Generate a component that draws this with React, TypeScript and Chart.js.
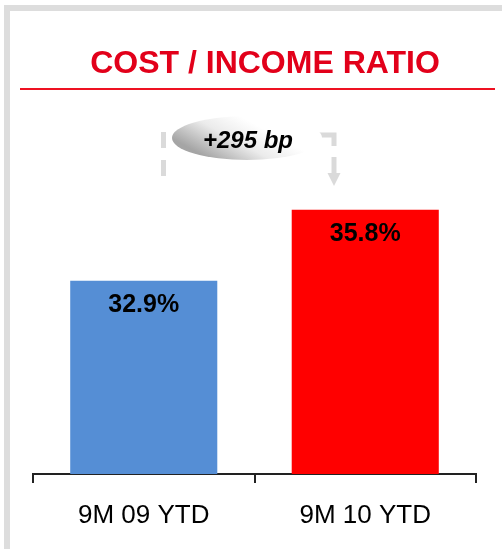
import React, { useEffect, useRef } from "react";
import { Chart, registerables } from "chart.js";

Chart.register(...registerables);

const categories = ["9M 09 YTD", "9M 10 YTD"];
const ratioValues = [32.9, 35.8];
const valueLabels = ["32.9%", "35.8%"];
const barColors = ["#558ed5", "#ff0000"];
const titleText = "COST / INCOME RATIO";
const deltaText = "+295 bp";

const FONT = "'Liberation Sans', Arial, sans-serif";

const decorPlugin = {
  id: "decor",
  beforeDraw(chart: any) {
    const ctx = chart.ctx;
    ctx.save();
    ctx.fillStyle = "#ffffff";
    ctx.fillRect(0, 0, chart.width, chart.height);
    // frame
    ctx.fillStyle = "#dddddd";
    ctx.fillRect(4, 5, 6, chart.height - 5);
    ctx.fillRect(4, 5, chart.width - 4, 6);
    // title
    ctx.fillStyle = "#e2001a";
    ctx.font = `bold 32px ${FONT}`;
    ctx.textAlign = "center";
    ctx.textBaseline = "alphabetic";
    ctx.fillText(titleText, 265, 73);
    // underline
    ctx.strokeStyle = "#ee1122";
    ctx.lineWidth = 2;
    ctx.beginPath();
    ctx.moveTo(20, 89);
    ctx.lineTo(495, 89);
    ctx.stroke();

    // dashed bracket
    ctx.strokeStyle = "#dadada";
    ctx.lineWidth = 5;
    ctx.setLineDash([16, 12]);
    ctx.beginPath();
    ctx.moveTo(163.5, 132);
    ctx.lineTo(163.5, 177);
    ctx.stroke();
    ctx.setLineDash([]);
    ctx.beginPath();
    ctx.moveTo(318, 135);
    ctx.lineTo(334, 135);
    ctx.lineTo(334, 146);
    ctx.stroke();
    ctx.beginPath();
    ctx.moveTo(334, 157);
    ctx.lineTo(334, 174);
    ctx.stroke();
    ctx.fillStyle = "#dadada";
    ctx.beginPath();
    ctx.moveTo(327.5, 173);
    ctx.lineTo(340.5, 173);
    ctx.lineTo(334, 186);
    ctx.closePath();
    ctx.fill();

    // ellipse
    const g = ctx.createLinearGradient(240, 116, 215, 162);
    g.addColorStop(0, "#ffffff");
    g.addColorStop(0.45, "#ebebeb");
    g.addColorStop(1, "#a5a5a5");
    ctx.fillStyle = g;
    ctx.beginPath();
    ctx.ellipse(247, 138, 75, 22, 0, 0, Math.PI * 2);
    ctx.fill();
    ctx.fillStyle = "#000000";
    ctx.font = `italic bold 24px ${FONT}`;
    ctx.textAlign = "center";
    ctx.fillText(deltaText, 248, 148);
    ctx.restore();
  },
  afterDatasetsDraw(chart: any) {
    const ctx = chart.ctx;
    const meta = chart.getDatasetMeta(0);
    ctx.save();
    ctx.fillStyle = "#000000";
    ctx.font = `bold 25px ${FONT}`;
    ctx.textAlign = "center";
    ctx.textBaseline = "middle";
    meta.data.forEach((bar: any, i: number) => {
      ctx.fillText(valueLabels[i], bar.x, bar.y + 24);
    });
    ctx.restore();
  },
};

export default function App() {
  const ref = useRef<HTMLCanvasElement>(null);
  useEffect(() => {
    if (!ref.current) return;
    const chart = new Chart(ref.current, {
      type: "bar",
      data: {
        labels: categories,
        datasets: [
          {
            data: ratioValues,
            backgroundColor: barColors,
            borderWidth: 0,
            barPercentage: 1,
            categoryPercentage: 0.664,
          },
        ],
      },
      options: {
        responsive: false,
        animation: false,
        devicePixelRatio: 1,
        layout: { padding: { left: 33, right: 26, top: 107, bottom: 0 } },
        plugins: { legend: { display: false }, tooltip: { enabled: false }, title: { display: false } },
        scales: {
          x: {
            afterFit: (s: any) => {
              s.height = 75;
            },
            border: { display: true, color: "#222222", width: 2 },
            grid: {
              display: true,
              drawOnChartArea: false,
              drawTicks: true,
              tickLength: 9,
              color: "#222222",
              lineWidth: 2,
              offset: true,
            },
            ticks: {
              color: "#000000",
              font: { family: FONT, size: 26 },
              padding: 17,
              maxRotation: 0,
            },
          },
          y: { display: false, min: 25, max: 40 },
        },
      },
      plugins: [decorPlugin],
    });
    return () => chart.destroy();
  }, []);
  return (
    <div style={{ position: "fixed", left: 0, top: 0, width: 502, height: 549 }}>
      <canvas ref={ref} width={502} height={549} style={{ display: "block" }} />
    </div>
  );
}
